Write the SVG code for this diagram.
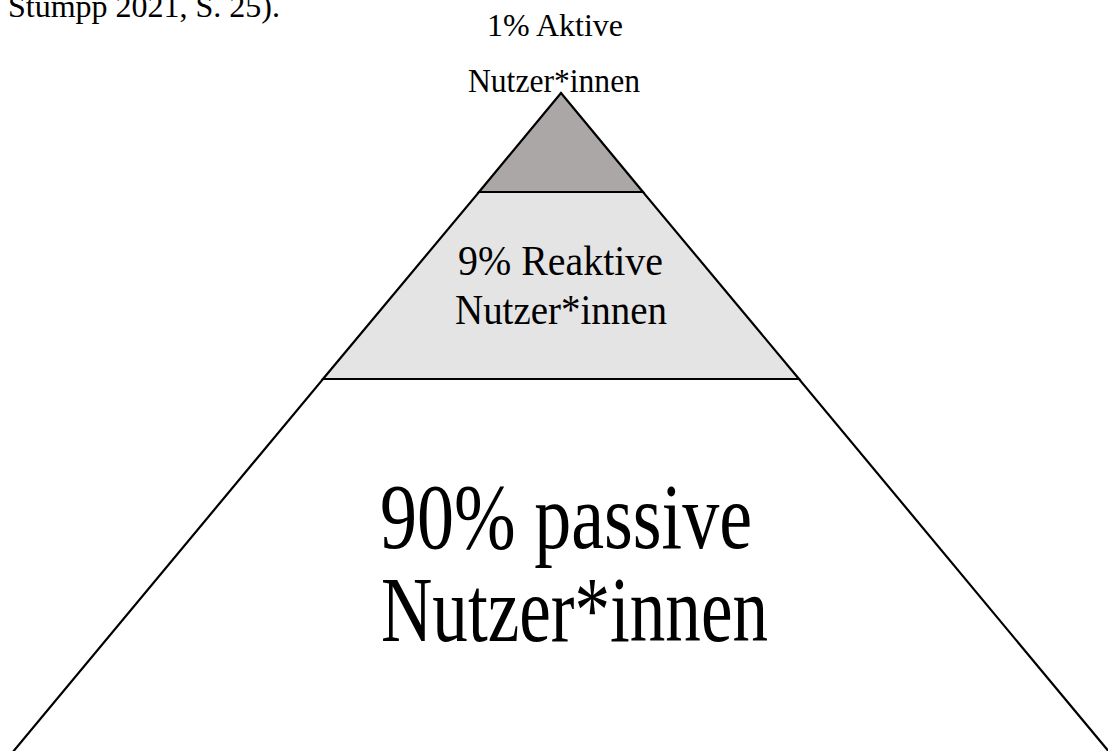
<svg xmlns="http://www.w3.org/2000/svg" width="1108" height="751" viewBox="0 0 1108 751">
<style>
.t{font-family:"Liberation Serif","Times New Roman",serif;fill:#000}
.s{stroke:#000;stroke-width:2.2;stroke-linejoin:miter}
</style>
<rect width="1108" height="751" fill="#fff"/>
<text class="t" x="8" y="17" font-size="32" textLength="272" lengthAdjust="spacingAndGlyphs">Stumpp 2021, S. 25).</text>
<g id="bottom">
<polygon class="s" points="323,379 799,379 1110,753 12,753" fill="#fff"/>
<text class="t" x="380" y="548" font-size="93" textLength="372" lengthAdjust="spacingAndGlyphs">90% passive</text>
<text class="t" x="381" y="641" font-size="93" textLength="387" lengthAdjust="spacingAndGlyphs">Nutzer*innen</text>
</g>
<g id="middle">
<polygon class="s" points="479,192 643,192 799,379 323,379" fill="#e4e4e4"/>
<text class="t" x="458" y="275" font-size="43" textLength="205" lengthAdjust="spacingAndGlyphs">9% Reaktive</text>
<text class="t" x="455" y="324" font-size="42" textLength="212" lengthAdjust="spacingAndGlyphs">Nutzer*innen</text>
</g>
<g id="top">
<polygon class="s" points="561,93 643,192 479,192" fill="#aba7a7"/>
<text class="t" x="487" y="36" font-size="31" textLength="136" lengthAdjust="spacingAndGlyphs">1% Aktive</text>
<text class="t" x="468" y="92" font-size="33" textLength="172" lengthAdjust="spacingAndGlyphs">Nutzer*innen</text>
</g>
<g id="connectors"></g>
</svg>
